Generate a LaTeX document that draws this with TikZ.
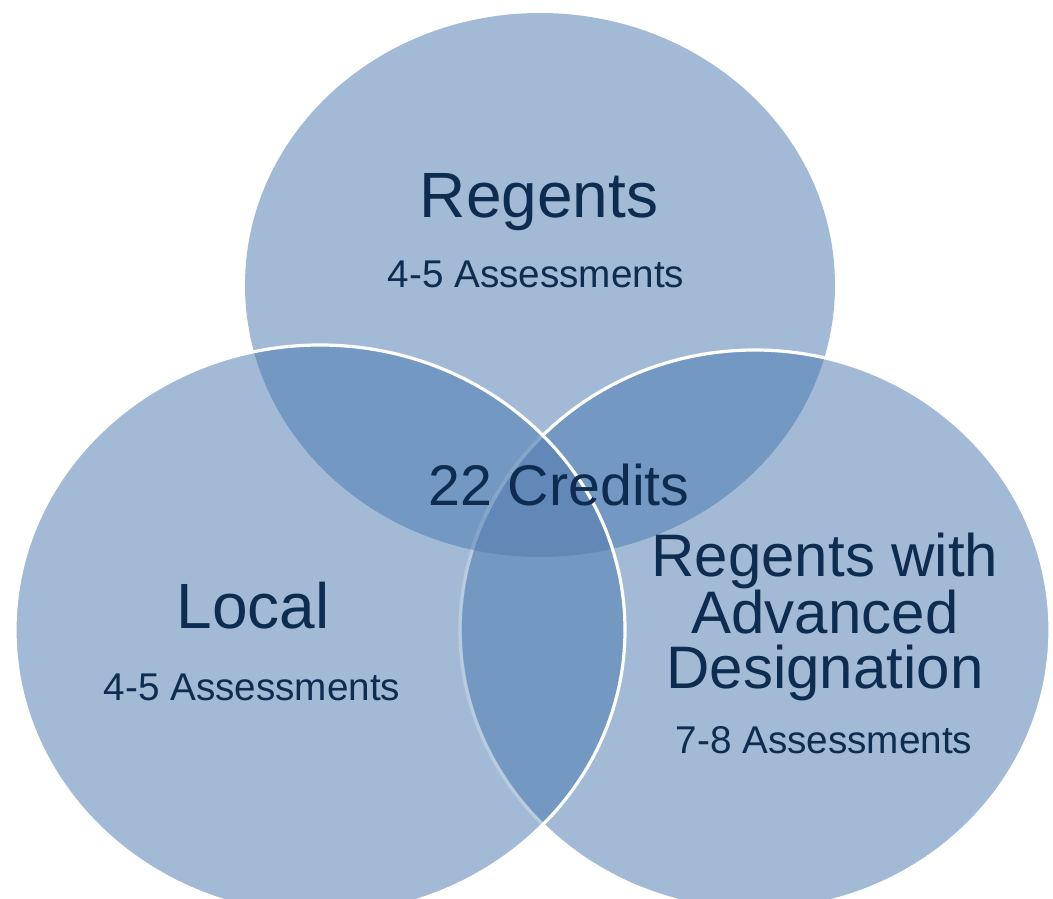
\documentclass[tikz,border=0pt]{standalone}
\usepackage{fontspec}
\setmainfont{Liberation Sans}
\usetikzlibrary{positioning}
\definecolor{setfill}{HTML}{A2BAD5}
\definecolor{pairfill}{HTML}{7399C2}
\definecolor{allfill}{HTML}{6188B6}
\definecolor{labelblue}{HTML}{0E2C50}
\tikzstyle{heading}=[text=labelblue, font=\fontsize{48}{41}\selectfont, anchor=base, align=center, inner sep=0pt]
\tikzstyle{count}=[text=labelblue, font=\fontsize{29}{32}\selectfont, anchor=base, inner sep=0pt]
\tikzstyle{rim}=[draw=white, line width=2.4pt]
\tikzstyle{topsize}=[x radius=295, y radius=272]
\tikzstyle{leftsize}=[x radius=305, y radius=285]
\tikzstyle{rightsize}=[x radius=295, y radius=280]

\begin{document}
\begin{tikzpicture}[x=0.75pt, y=-0.75pt]
  \useasboundingbox (0,0) rectangle (1053,899);
  \coordinate (regents) at (540,285);
  \coordinate (local) at (320,630);
  \coordinate (advanced) at (755,630);
  % single sets
  \fill[setfill] (regents) ellipse [topsize];
  \fill[setfill] (local) ellipse [leftsize];
  \fill[setfill] (advanced) ellipse [rightsize];
  % pairwise overlaps
  \begin{scope}
    \clip (regents) ellipse [topsize];
    \fill[pairfill] (local) ellipse [leftsize];
    \fill[pairfill] (advanced) ellipse [rightsize];
  \end{scope}
  \begin{scope}
    \clip (local) ellipse [leftsize];
    \fill[pairfill] (advanced) ellipse [rightsize];
  \end{scope}
  % all three
  \begin{scope}
    \clip (regents) ellipse [topsize];
    \clip (local) ellipse [leftsize];
    \fill[allfill] (advanced) ellipse [rightsize];
  \end{scope}
  % rims
  \draw[rim] (advanced) ellipse [rightsize];
  \begin{scope}
    \clip (local) ellipse [leftsize];
    \fill[setfill, opacity=0.75] (advanced) ellipse [x radius=297, y radius=282];
    \clip (regents) ellipse [topsize];
    \fill[pairfill, opacity=0.75] (advanced) ellipse [x radius=297, y radius=282];
  \end{scope}
  \begin{scope}
    \clip (local) ellipse [leftsize];
    \clip (regents) ellipse [topsize];
    \clip (advanced) ellipse [x radius=293, y radius=278];
    \fill[allfill] (advanced) ellipse [rightsize];
  \end{scope}
  \begin{scope}
    \clip (local) ellipse [leftsize];
    \clip (advanced) ellipse [x radius=293, y radius=278];
    \fill[pairfill] (local) ellipse [leftsize];
    \clip (regents) ellipse [topsize];
    \fill[allfill] (local) ellipse [leftsize];
  \end{scope}
  \draw[rim] (local) ellipse [leftsize];
  % labels
  \node[heading] (regentsname) at (539,217) {Regents};
  \node[count] (regentscount) at (536,287) {4-5 Assessments};
  \node[heading] (localname) at (253,628) {Local};
  \node[count] (localcount) at (252,700) {4-5 Assessments};
  \node[heading, font=\fontsize{43}{41}\selectfont] (credits) at (559,505) {22 Credits};
  \node[heading, font=\fontsize{45}{41}\selectfont] (advancedname) at (825,688) {Regents with\\Advanced\\Designation};
  \node[count] (advancedcount) at (824,753) {7-8 Assessments};
\end{tikzpicture}
\end{document}
